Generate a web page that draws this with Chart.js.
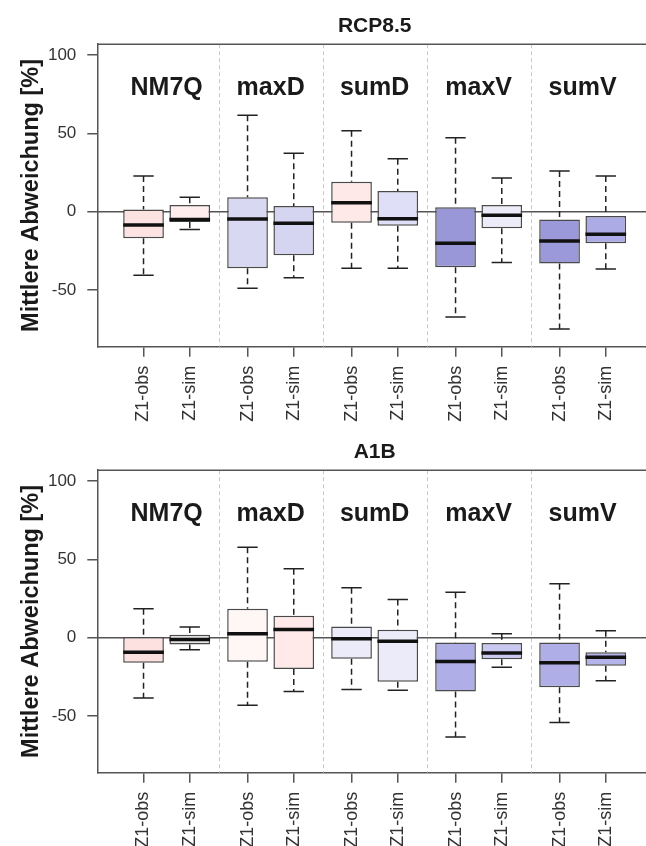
<!DOCTYPE html>
<html>
<head>
<meta charset="utf-8">
<script src="https://cdn.jsdelivr.net/npm/chart.js@4.4.1/dist/chart.umd.min.js"></script>
<style>
  html, body { margin: 0; padding: 0; background: #fff; overflow: hidden; }
  #wrap { width: 646px; height: 846px; overflow: hidden; }
  canvas { display: block; }
</style>
</head>
<body>
<div id="wrap">
  <canvas id="rcp" width="652" height="426"></canvas>
  <canvas id="a1b" width="652" height="426"></canvas>
</div>
<script>
const groups = ['NM7Q', 'maxD', 'sumD', 'maxV', 'sumV'];
const boxLabels = ['Z1-obs', 'Z1-sim', 'Z1-obs', 'Z1-sim', 'Z1-obs', 'Z1-sim', 'Z1-obs', 'Z1-sim', 'Z1-obs', 'Z1-sim'];
const yTicks = [-50, 0, 50, 100];

// RCP8.5 (whisker low, Q1, median, Q3, whisker high)
const rcpLow  = [-40.6, -11.3, -48.9, -42.1, -36.1, -36.1, -67.2, -32.5, -74.9, -36.6];
const rcpQ1   = [-17.0,  -6.6, -36.1, -27.8,  -7.0,  -8.9, -35.5, -10.6, -33.1, -20.2];
const rcpMed  = [ -8.5,  -4.9,  -4.7,  -7.4,   5.7,  -4.5, -20.2,  -2.3, -18.7, -14.4];
const rcpQ3   = [  1.5,   4.3,   9.2,   3.6,  19.1,  13.2,   2.8,   4.3,  -4.9,  -2.7];
const rcpHigh = [ 22.8,   9.2,  61.7,  37.3,  51.7,  33.8,  47.2,  21.5,  26.0,  22.8];

// A1B
const a1bLow  = [-38.5,  -7.7, -43.2, -34.3, -33.0, -33.6, -63.4, -18.8, -54.2, -27.4];
const a1bQ1   = [-16.0,  -4.3, -15.3, -20.0, -13.4, -28.1, -34.3, -13.8, -31.7, -17.9];
const a1bMed  = [ -9.2,  -1.1,   2.5,   5.3,  -0.6,  -2.2, -15.1,  -9.8, -16.0, -12.4];
const a1bQ3   = [  0.4,   1.9,  18.5,  14.0,   7.2,   5.1,  -3.0,  -3.4,  -3.0,  -9.2];
const a1bHigh = [ 18.5,   6.8,  57.8,  44.0,  31.9,  24.4,  29.1,   2.6,  34.5,   4.5];

const rcpFill = ['#fde2e2', '#ffeded', '#d8d8f3', '#d5d5f2', '#ffe8e8', '#dfdff7', '#9a97d9', '#ececf8', '#9c99da', '#adabe6'];
const a1bFill = ['#fde0e0', '#e8e4e6', '#fff6f6', '#ffe9e9', '#ebebf9', '#ebebf9', '#afaee6', '#c9c8f0', '#afaee6', '#b5b4ea'];

// box positions like R's boxplot(at=...): pairs with a wider gap between groups
const positions = boxLabels.map((_, i) => 1 + Math.floor(i / 2) * 2.25 + (i % 2));
const groupLabelY = 79;

Chart.defaults.font.family = "'Liberation Sans', Arial, sans-serif";

const boxExtras = {
    id: 'boxExtras',
    beforeDatasetsDraw(chart) {
        const { ctx, chartArea: a, scales: { x, y } } = chart;
        const st = chart.config.options.plugins.boxExtras;
        ctx.save();

        // dashed group separators
        ctx.strokeStyle = '#c8c8c8';
        ctx.lineWidth = 1;
        ctx.setLineDash([4, 3]);
        for (let g = 1; g < groups.length; g++) {
            const xs = Math.round(x.getPixelForValue((positions[2 * g - 1] + positions[2 * g]) / 2)) + 0.5;
            ctx.beginPath();
            ctx.moveTo(xs, a.top);
            ctx.lineTo(xs, a.bottom);
            ctx.stroke();
        }

        // zero line
        ctx.setLineDash([]);
        ctx.strokeStyle = '#555';
        ctx.lineWidth = 1.5;
        const y0 = y.getPixelForValue(0);
        ctx.beginPath();
        ctx.moveTo(a.left, y0);
        ctx.lineTo(a.right, y0);
        ctx.stroke();

        // top frame line
        ctx.beginPath();
        ctx.moveTo(a.left, a.top);
        ctx.lineTo(a.right, a.top);
        ctx.stroke();

        // whiskers + staples
        const capHalf = x.getPixelForValue(1.22) - x.getPixelForValue(1);
        ctx.strokeStyle = '#222';
        ctx.lineWidth = 1.5;
        positions.forEach((p, i) => {
            const px = x.getPixelForValue(p);
            ctx.setLineDash([6, 4]);
            ctx.beginPath();
            ctx.moveTo(px, y.getPixelForValue(st.high[i]));
            ctx.lineTo(px, y.getPixelForValue(st.q3[i]));
            ctx.moveTo(px, y.getPixelForValue(st.q1[i]));
            ctx.lineTo(px, y.getPixelForValue(st.low[i]));
            ctx.stroke();
            ctx.setLineDash([]);
            ctx.beginPath();
            [st.high[i], st.low[i]].forEach(v => {
                const py = y.getPixelForValue(v);
                ctx.moveTo(px - capHalf, py);
                ctx.lineTo(px + capHalf, py);
            });
            ctx.stroke();
        });
        ctx.restore();
    },
    afterDatasetsDraw(chart) {
        const { ctx, scales: { x, y } } = chart;
        const st = chart.config.options.plugins.boxExtras;
        const meta = chart.getDatasetMeta(0);
        ctx.save();

        // medians
        ctx.strokeStyle = '#111';
        ctx.lineWidth = 3.5;
        meta.data.forEach((bar, i) => {
            const half = bar.width / 2;
            const py = y.getPixelForValue(st.med[i]);
            ctx.beginPath();
            ctx.moveTo(bar.x - half, py);
            ctx.lineTo(bar.x + half, py);
            ctx.stroke();
        });

        // group names
        ctx.fillStyle = '#1a1a1a';
        ctx.font = "bold 25px 'Liberation Sans', Arial, sans-serif";
        ctx.textAlign = 'center';
        ctx.textBaseline = 'middle';
        groups.forEach((g, k) => {
            const cx = x.getPixelForValue((positions[2 * k] + positions[2 * k + 1]) / 2);
            ctx.fillText(g, cx, y.getPixelForValue(groupLabelY));
        });
        ctx.restore();
    }
};

function makeChart(id, title, low, q1, med, q3, high, fills) {
    const ctx = document.getElementById(id).getContext('2d');
    return new Chart(ctx, {
        type: 'bar',
        data: {
            datasets: [{
                data: positions.map((p, i) => ({ x: p, y: [q1[i], q3[i]] })),
                backgroundColor: fills,
                borderColor: '#4a4a4a',
                borderWidth: 1.5,
                borderSkipped: false,
                categoryPercentage: 1,
                barPercentage: 0.88,
                grouped: false
            }]
        },
        options: {
            responsive: false,
            animation: false,
            layout: { padding: 0 },
            plugins: {
                legend: { display: false },
                tooltip: { enabled: false },
                title: {
                    display: true,
                    text: title,
                    fullSize: false,
                    color: '#1a1a1a',
                    font: { size: 21, weight: 'bold' },
                    padding: { top: 14, bottom: 5 }
                },
                boxExtras: { low, q1, med, q3, high }
            },
            scales: {
                x: {
                    type: 'linear',
                    min: 0,
                    max: 12,
                    offset: false,
                    afterBuildTicks: s => { s.ticks = positions.map(v => ({ value: v })); },
                    afterFit: s => { s.height = 79.3; },
                    grid: { offset: false, drawOnChartArea: false, color: '#555', lineWidth: 1.5, tickLength: 10 },
                    border: { color: '#555', width: 1.5 },
                    ticks: {
                        minRotation: 90,
                        maxRotation: 90,
                        padding: 9,
                        color: '#333',
                        font: { size: 18 },
                        callback: v => boxLabels[positions.indexOf(v)]
                    }
                },
                y: {
                    min: -86.2,
                    max: 107,
                    afterBuildTicks: s => { s.ticks = yTicks.map(v => ({ value: v })); },
                    afterFit: s => { s.width = 97.3; },
                    grid: { drawOnChartArea: false, color: '#555', lineWidth: 1.5, tickLength: 10 },
                    border: { color: '#555', width: 1.5 },
                    ticks: { padding: 11, color: '#333', font: { size: 17 } },
                    title: {
                        display: true,
                        text: 'Mittlere Abweichung [%]',
                        color: '#1a1a1a',
                        font: { size: 23.5, weight: 'bold' },
                        padding: { top: 17, bottom: 0 }
                    }
                }
            }
        },
        plugins: [boxExtras]
    });
}

makeChart('rcp', 'RCP8.5', rcpLow, rcpQ1, rcpMed, rcpQ3, rcpHigh, rcpFill);
makeChart('a1b', 'A1B', a1bLow, a1bQ1, a1bMed, a1bQ3, a1bHigh, a1bFill);
</script>
</body>
</html>
